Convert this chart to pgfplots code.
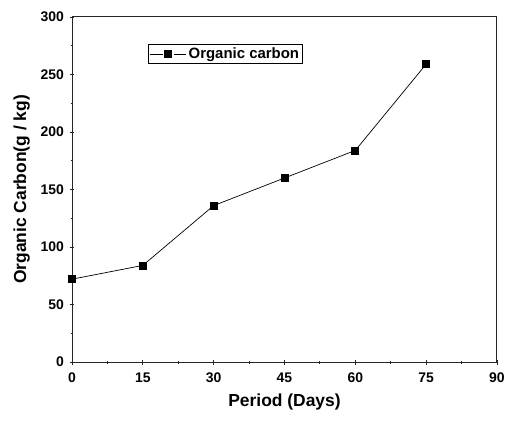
\documentclass[border=0pt]{standalone}
\usepackage{fontspec}
\setmainfont{Liberation Sans}
\usepackage{pgfplots}
\pgfplotsset{compat=1.18}

\begin{document}
\begin{tikzpicture}
\path[use as bounding box] (-72bp,-60bp) rectangle (434bp,362bp);
\begin{axis}[
  scale only axis,
  width=425bp, height=345bp,
  xmin=0, xmax=90, ymin=0, ymax=300,
  xtick={0,15,...,90}, ytick={0,50,...,300},
  minor x tick num=1, minor y tick num=1,
  tick pos=left,
  tick align=center,
  major tick length=5bp, minor tick length=3bp,
  axis line style={black!85, line width=1bp},
  every tick/.style={black!85, line width=0.9bp},
  /pgf/number format/assume math mode=true,
  ticklabel style={font=\fontsize{14}{14}\selectfont\bfseries},
  xticklabel style={yshift=-5bp},
  yticklabel style={xshift=-2bp},
  xlabel={Period (Days)},
  ylabel={Organic Carbon(g / kg)},
  label style={font=\fontsize{17.5}{17.5}\selectfont\bfseries},
  xlabel style={yshift=-4bp},
  ylabel style={yshift=4bp},
  legend style={at={(0.179,0.922)}, anchor=north west,
    font=\fontsize{15}{15}\selectfont\bfseries,
    draw=black, line width=0.8bp, inner sep=1.5bp,
    legend cell align=left},
  legend image code/.code={
    \draw[black, line width=0.7bp] (0bp,0bp) -- (12.5bp,0bp);
    \draw[black, line width=0.7bp] (23.5bp,0bp) -- (36bp,0bp);
    \draw[black, fill=black, line width=0bp] (14.5bp,-3.5bp) rectangle (21.5bp,3.5bp);
  },
]
\addplot[black, line width=0.7bp, mark=square*, mark size=3.5bp,
  mark options={solid, fill=black}]
  coordinates {(0,72) (15,84) (30,136) (45,160) (60,184) (75,259)};
\addlegendentry{Organic carbon}
\end{axis}
\end{tikzpicture}
\end{document}
